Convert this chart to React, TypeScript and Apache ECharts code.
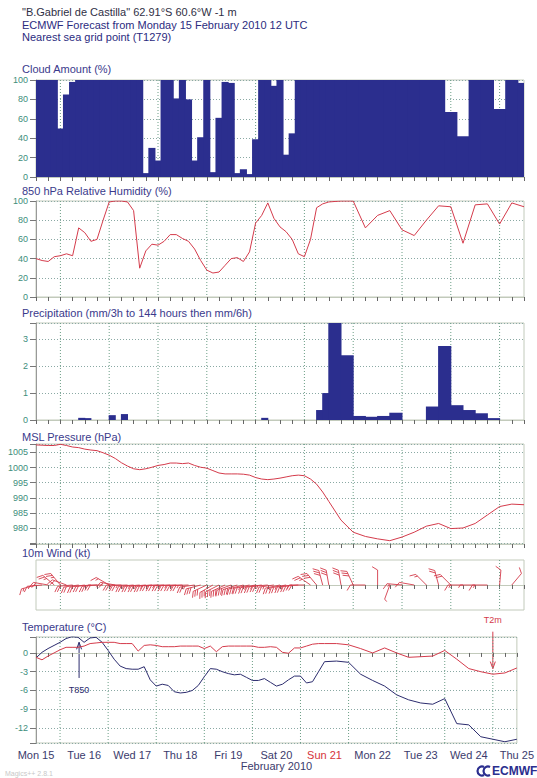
import React, { useEffect, useRef } from 'react';
import * as echarts from 'echarts';

const W = 537;
const H = 778;
const FF = '"Liberation Sans", Arial, Helvetica, sans-serif';

// forecast steps (hours after Mon 15 Feb 2010 12 UTC): 3-hourly to 144 h, then 6-hourly
const stepHours = [
  0, 3, 6, 9, 12, 15, 18, 21, 24, 27, 30, 33, 36, 39, 42, 45, 48, 51, 54, 57, 60, 63, 66, 69, 72,
  75, 78, 81, 84, 87, 90, 93, 96, 99, 102, 105, 108, 111, 114, 117, 120, 123, 126, 129, 132, 135,
  138, 141, 144, 150, 156, 162, 168, 174, 180, 186, 192, 198, 204, 210, 216, 222, 228, 234, 240,
];

const dayLabels = ['Mon 15', 'Tue 16', 'Wed 17', 'Thu 18', 'Fri 19', 'Sat 20', 'Sun 21', 'Mon 22', 'Tue 23', 'Wed 24', 'Thu 25'];
const dayLines = [12, 36, 60, 84, 108, 132, 156, 180, 204, 228];

const cloudCover = [
  100, 100, 100, 100, 50, 85, 98, 100, 100, 100,
  100, 100, 100, 100, 100, 100, 100, 100, 4, 30,
  17, 100, 100, 81, 100, 80, 17, 41, 100, 5,
  61, 98, 97, 4, 8, 3, 39, 100, 100, 94,
  100, 23, 45, 100, 100, 100, 100, 100, 100,
  100, 100, 100, 100, 100, 100, 100, 100, 100, 67, 42, 100, 100, 70, 100, 97,
];

const relHumidity = [
  40, 38, 37, 42, 43, 45, 43, 72, 67, 58,
  60, 80, 99, 100, 100, 99, 90, 30, 48, 55,
  54, 58, 65, 65, 61, 58, 50, 38, 28, 25,
  26, 33, 40, 41, 37, 47, 77, 85, 98, 82,
  73, 68, 60, 45, 42, 60, 93, 97, 99,
  100, 100, 72, 85, 90, 70, 64, 80, 95, 94, 56, 96, 97, 76, 98, 94,
];

const precip = [
  0, 0, 0, 0, 0, 0, 0, 0, 0.08, 0.07,
  0, 0, 0, 0.18, 0, 0.22, 0, 0, 0, 0,
  0, 0, 0, 0, 0, 0, 0, 0, 0, 0,
  0, 0, 0, 0, 0, 0, 0, 0, 0.08, 0,
  0, 0, 0, 0, 0, 0, 0, 0.37, 1.0,
  3.6, 2.4, 0.15, 0.12, 0.15, 0.27, 0, 0, 0.5, 2.75, 0.55, 0.37, 0.25, 0.07, 0, 0,
];

const mslPressure = [
  1007.5, 1007.4, 1007.3, 1007.3, 1007.7, 1007.3, 1006.8, 1006.6, 1006.1, 1005.8,
  1005.6, 1004.9, 1004.1, 1003.0, 1001.6, 1000.5, 999.6, 999.3, 999.6, 1000.1,
  1000.7, 1001.0, 1001.5, 1001.5, 1001.3, 1001.5, 1000.7, 1000.1, 999.8, 999.0,
  998.2, 997.9, 997.9, 997.9, 997.8, 997.5, 996.7, 996.2, 996.0, 996.2,
  996.5, 996.9, 997.3, 997.5, 997.3, 996.2, 994.5, 991.9, 988.8,
  982.6, 978.6, 977.2, 976.4, 975.8, 977.0, 978.6, 980.6, 981.5, 979.8, 980.0, 981.5, 984.3, 987.1, 987.9, 987.7,
];

const windDir = [
  255, 265, 280, 310, 320, 290, 265, 262, 262, 265,
  265, 270, 300, 280, 270, 268, 265, 265, 265, 265,
  268, 268, 268, 268, 268, 268, 262, 255, 245, 240,
  243, 245, 250, 252, 255, 258, 260, 262, 265, 262,
  258, 260, 262, 265, 270, 305, 320, 345, 350,
  350, 335, 270, 360, 200, 275, 280, 315, 345, 315, 270, 270, 270, 5, 40, 180,
];

const windSpeed = [
  15, 15, 20, 25, 25, 20, 20, 20, 20, 20,
  20, 20, 15, 20, 25, 25, 25, 25, 25, 25,
  25, 25, 25, 25, 25, 25, 25, 30, 30, 30,
  30, 30, 30, 30, 30, 25, 25, 25, 25, 25,
  25, 25, 25, 25, 20, 25, 30, 30, 30,
  30, 30, 10, 10, 3, 15, 10, 15, 20, 20, 15, 3, 15, 10, 10, 0,
];

const temp2m = [
  -0.7, -1.1, -0.5, 0, 0.5, 0.9, 0.9, 0.9, 1.1, 1.5,
  1.6, 1.7, 1.7, 1.7, 1.5, 1.5, 1.5, 0.3, 1.2, 1.3,
  1.2, 1.0, 1.0, 1.0, 1.1, 1.1, 1.1, 1.1, 0.7, 1.1,
  0.2, 1.0, 1.1, 1.1, 1.1, 1.1, 1.1, 0.9, 0.9, 1.0,
  0.9, 0.1, -0.05, 0.8, 0.8, 1.1, 1.4, 1.5, 1.5,
  1.5, 1.3, 0.7, 0.0, 0.8, 0.0, -0.7, -0.6, -0.5, 0.4, -1.0, -2.5, -3.0, -3.4, -3.2, -2.4,
];

const temp850 = [
  -0.8, 0.1, 0.7, 1.2, 1.7, 2.3, 2.6, 2.5, 1.7, 2.4,
  2.5, 1.7, 0.4, -1.0, -2.1, -2.5, -2.6, -2.6, -2.2, -4.3,
  -5.3, -5.0, -5.2, -6.2, -6.4, -6.3, -6.0, -5.2, -3.8, -2.5,
  -2.6, -3.0, -3.3, -3.5, -3.4, -3.9, -4.4, -4.4, -4.1, -4.7,
  -5.3, -5.0, -4.3, -3.7, -3.7, -4.8, -4.6, -3.0, -1.4,
  -1.3, -1.5, -3.4, -4.4, -5.3, -6.7, -7.5, -8.0, -8.2, -7.3, -11.3, -11.5, -13.4, -13.8, -14.2, -13.8,
];

const NAVY = '#2b2e8e';
const DARKNAVY = '#2c2c6e';
const RED = '#d43b4b';
const LABEL = '#3d8d7b';
const TITLE = '#3a3a8c';
const FRAME = '#c2cabb';
const HGRID = '#8aa9a4';
const VGRID = '#6c9e86';
const DAYCOL = '#3b3b6c';

const grids = [
  { top: 80, height: 97 },
  { top: 201, height: 96 },
  { top: 323, height: 97 },
  { top: 444, height: 100 },
  { top: 560, height: 50 },
  { top: 637, height: 106 },
];

const panelTitles = [
  { text: 'Cloud Amount (%)', y: 69 },
  { text: '850 hPa Relative Humidity (%)', y: 191 },
  { text: 'Precipitation (mm/3h to 144 hours then mm/6h)', y: 313 },
  { text: 'MSL Pressure (hPa)', y: 437 },
  { text: '10m Wind (kt)', y: 553 },
  { text: 'Temperature (°C)', y: 627 },
];

function barRender(params: any, api: any) {
  const x0 = api.value(0);
  const x1 = api.value(1);
  const v = api.value(2);
  if (!v) return null;
  const p0 = api.coord([x0, v]);
  const p1 = api.coord([x1, 0]);
  const cs = params.coordSys;
  // small overlap so adjacent bars leave no anti-aliasing seams
  const rect = echarts.graphic.clipRectByRect(
    { x: p0[0] - 0.5, y: p0[1], width: p1[0] - p0[0] + 1, height: p1[1] - p0[1] },
    { x: cs.x, y: cs.y, width: cs.width, height: cs.height }
  );
  if (!rect) return null;
  return { type: 'rect', shape: rect, style: { fill: NAVY } };
}

function vgridRender(params: any, api: any) {
  const cs = params.coordSys;
  const p = api.coord([api.value(0), api.value(1)]);
  return {
    type: 'line',
    shape: { x1: p[0], y1: cs.y, x2: p[0], y2: cs.y + cs.height },
    style: { stroke: VGRID, lineWidth: 1, lineDash: [1, 2] },
  };
}

function barbRender(params: any, api: any) {
  const x = api.value(0);
  const dir = api.value(2);
  const spd = api.value(3);
  if (!spd) return null;
  const p = api.coord([x, 0]);
  const a = (dir * Math.PI) / 180;
  const sx = Math.sin(a);
  const sy = -Math.cos(a);
  const qx = sy;
  const qy = -sx;
  const L = 15;
  const F = 5.5;
  const G = 2.5;
  const st = { stroke: RED, lineWidth: 0.9 };
  const children: any[] = [
    { type: 'line', shape: { x1: p[0], y1: p[1], x2: p[0] + sx * L, y2: p[1] + sy * L }, style: st },
  ];
  let rem = Math.round(spd / 5) * 5;
  let d = L;
  while (rem >= 10) {
    const bx = p[0] + sx * d;
    const by = p[1] + sy * d;
    children.push({
      type: 'line',
      shape: { x1: bx, y1: by, x2: bx + qx * F + sx * F * 0.6, y2: by + qy * F + sy * F * 0.6 },
      style: st,
    });
    rem -= 10;
    d -= G;
  }
  if (rem >= 5) {
    const bx = p[0] + sx * d;
    const by = p[1] + sy * d;
    children.push({
      type: 'line',
      shape: { x1: bx, y1: by, x2: bx + qx * F * 0.5 + sx * F * 0.3, y2: by + qy * F * 0.5 + sy * F * 0.3 },
      style: st,
    });
  }
  return { type: 'group', children };
}

function buildOption(): any {
  const xs = stepHours;
  const cloudData = xs.map((x, i) => {
    const prev = i > 0 ? xs[i - 1] : x - (xs[1] - xs[0]);
    const next = i < xs.length - 1 ? xs[i + 1] : x + (x - xs[i - 1]);
    return [(prev + x) / 2, (x + next) / 2, cloudCover[i]];
  });
  const precipData = xs.map((x, i) => {
    const prev = i > 0 ? xs[i - 1] : x - 3;
    return [prev, x, precip[i]];
  });
  const line = (vals: number[]) => xs.map((x, i) => [x, vals[i]]);
  const windData = xs.map((x, i) => [x, 0, windDir[i], windSpeed[i]]);

  const xAxis = grids.map((_, i) => ({
    gridIndex: i,
    type: 'value',
    min: 0,
    max: 240,
    interval: 6,
    axisLine: { show: true, lineStyle: { color: FRAME } },
    axisTick: { show: true, length: 4, lineStyle: { color: '#666' } },
    splitLine: { show: false },
    axisLabel:
      i === 5
        ? {
            show: true,
            margin: 6,
            color: DAYCOL,
            fontSize: 11,
            fontFamily: FF,
            formatter: (v: number) => {
              if (v % 24 !== 0) return '';
              const k = v / 24;
              return k === 6 ? '{sun|' + dayLabels[k] + '}' : dayLabels[k];
            },
            rich: { sun: { color: '#d6333a', fontSize: 11, fontFamily: FF } },
          }
        : { show: false },
    name: i === 5 ? 'February 2010' : '',
    nameLocation: 'middle',
    nameGap: 17,
    nameTextStyle: { color: DAYCOL, fontSize: 11, fontFamily: FF },
  }));

  const ySplit = { show: true, lineStyle: { color: HGRID, type: [1, 2], width: 1 } };
  const yBase = {
    type: 'value',
    axisLine: { show: true, lineStyle: { color: '#999' } },
    axisTick: { show: true, length: 6, lineStyle: { color: '#777' } },
    splitLine: ySplit,
  };
  const yLab = (fmt: (v: number) => string) => ({
    color: LABEL,
    fontSize: 9,
    fontFamily: FF,
    margin: 8,
    formatter: fmt,
  });
  const yAxis = [
    { ...yBase, gridIndex: 0, min: 0, max: 100, interval: 20, axisLabel: yLab((v) => String(v)) },
    { ...yBase, gridIndex: 1, min: 0, max: 100, interval: 20, axisLabel: yLab((v) => String(v)) },
    {
      ...yBase, gridIndex: 2, min: 0, max: 3.6, interval: 1,
      axisLabel: yLab((v) => (Math.abs(v - Math.round(v)) < 1e-6 ? String(Math.round(v)) : '')),
    },
    {
      ...yBase, gridIndex: 3, min: 974.7, max: 1007.8, splitNumber: 5,
      axisLabel: yLab((v) => (Math.abs(v % 5) < 1e-6 && v >= 978 ? String(v) : '')),
    },
    {
      gridIndex: 4, type: 'value', min: -1, max: 1,
      axisLine: { show: false }, axisTick: { show: false }, axisLabel: { show: false }, splitLine: { show: false },
    },
    {
      ...yBase, gridIndex: 5, min: -14.4, max: 2.55, splitNumber: 5,
      axisLabel: yLab((v) => (Math.abs(v % 3) < 1e-6 ? String(Math.round(v)) : '')),
    },
  ];

  const vgrid = grids.map((_, i) => ({
    type: 'custom',
    xAxisIndex: i,
    yAxisIndex: i,
    z: 1,
    silent: true,
    renderItem: vgridRender,
    encode: { x: 0, y: 1 },
    data: dayLines.map((d) => [d, yAxis[i].min]),
  }));

  return {
    animation: false,
    backgroundColor: '#ffffff',
    textStyle: { fontFamily: FF },
    grid: grids.map((g) => ({
      left: 36,
      right: 13,
      top: g.top,
      height: g.height,
      show: true,
      borderColor: FRAME,
      borderWidth: 1,
      backgroundColor: 'transparent',
    })),
    xAxis,
    yAxis,
    series: [
      ...vgrid,
      {
        type: 'custom', name: 'cloud', xAxisIndex: 0, yAxisIndex: 0, z: 3,
        renderItem: barRender, encode: { x: [0, 1], y: 2 }, data: cloudData,
      },
      {
        type: 'line', name: 'rh', xAxisIndex: 1, yAxisIndex: 1, z: 3, showSymbol: false,
        lineStyle: { color: RED, width: 1 }, itemStyle: { color: RED }, data: line(relHumidity),
      },
      {
        type: 'custom', name: 'precip', xAxisIndex: 2, yAxisIndex: 2, z: 3,
        renderItem: barRender, encode: { x: [0, 1], y: 2 }, data: precipData,
      },
      {
        type: 'line', name: 'msl', xAxisIndex: 3, yAxisIndex: 3, z: 3, showSymbol: false,
        lineStyle: { color: RED, width: 1 }, itemStyle: { color: RED }, data: line(mslPressure),
      },
      {
        type: 'custom', name: 'wind', xAxisIndex: 4, yAxisIndex: 4, z: 3,
        renderItem: barbRender, encode: { x: 0, y: 1 }, data: windData,
      },
      {
        type: 'line', name: 'T850', xAxisIndex: 5, yAxisIndex: 5, z: 3, showSymbol: false,
        lineStyle: { color: DARKNAVY, width: 1 }, itemStyle: { color: DARKNAVY }, data: line(temp850),
      },
      {
        type: 'line', name: 'T2m', xAxisIndex: 5, yAxisIndex: 5, z: 4, showSymbol: false,
        lineStyle: { color: RED, width: 1 }, itemStyle: { color: RED }, data: line(temp2m),
      },
    ],
  };
}

function buildGraphics(chart: any): any[] {
  const g: any[] = [];
  const txt = (text: string, x: number, y: number, font: string, fill: string, align = 'left') => ({
    type: 'text',
    silent: true,
    style: { text, x, y, font, fill, align, verticalAlign: 'middle' },
  });
  g.push(txt('"B.Gabriel de Castilla" 62.91°S 60.6°W -1 m', 22, 12, '11px ' + FF, '#2f2f45'));
  g.push(txt('ECMWF Forecast from Monday 15 February 2010 12 UTC', 22, 24.5, '11px ' + FF, '#2b2b80'));
  g.push(txt('Nearest sea grid point (T1279)', 22, 37, '11px ' + FF, '#2b2b80'));
  panelTitles.forEach((t) => g.push(txt(t.text, 22, t.y, '11px ' + FF, TITLE)));

  const px = (x: number, y: number) => chart.convertToPixel({ gridIndex: 5 }, [x, y]);
  // T2m arrow
  const a0 = px(228, 5.3);
  const a1 = px(228, 3.4);
  const a2 = px(228, -2.5);
  g.push(txt('T2m', a0[0], a0[1], '9px ' + FF, RED, 'center'));
  g.push({ type: 'line', silent: true, shape: { x1: a1[0], y1: a1[1], x2: a2[0], y2: a2[1] }, style: { stroke: RED, lineWidth: 1 } });
  g.push({
    type: 'polyline', silent: true,
    shape: { points: [[a2[0] - 2.5, a2[1] - 7], [a2[0], a2[1]], [a2[0] + 2.5, a2[1] - 7]] },
    style: { stroke: RED, lineWidth: 1, fill: 'none' },
  });
  // T850 arrow
  const b0 = px(21.5, -5.9);
  const b1 = px(21.5, -4.0);
  const b2 = px(21.5, 1.7);
  g.push(txt('T850', b0[0], b0[1], '9px ' + FF, DARKNAVY, 'center'));
  g.push({ type: 'line', silent: true, shape: { x1: b1[0], y1: b1[1], x2: b2[0], y2: b2[1] }, style: { stroke: DARKNAVY, lineWidth: 1 } });
  g.push({
    type: 'polyline', silent: true,
    shape: { points: [[b2[0] - 2.5, b2[1] + 7], [b2[0], b2[1]], [b2[0] + 2.5, b2[1] + 7]] },
    style: { stroke: DARKNAVY, lineWidth: 1, fill: 'none' },
  });

  g.push(txt('Magics++ 2.8.1', 5, 773, '7px ' + FF, '#c8c8c8'));
  g.push({ type: 'arc', silent: true, shape: { cx: 482, cy: 771, r: 4.5, startAngle: Math.PI * 0.35, endAngle: Math.PI * 1.65 }, style: { stroke: NAVY, lineWidth: 2.2, fill: 'none' } });
  g.push({ type: 'arc', silent: true, shape: { cx: 488, cy: 771, r: 4.5, startAngle: Math.PI * 0.35, endAngle: Math.PI * 1.65 }, style: { stroke: NAVY, lineWidth: 2.2, fill: 'none' } });
  g.push(txt('ECMWF', 492, 771, 'bold 12px ' + FF, NAVY));
  return g;
}

export default function App() {
  const ref = useRef<HTMLDivElement>(null);
  useEffect(() => {
    const el = ref.current;
    if (!el) return;
    const chart = echarts.init(el, null, { renderer: 'svg' });
    chart.setOption(buildOption());
    chart.setOption({ graphic: buildGraphics(chart) });
    return () => chart.dispose();
  }, []);
  return (
    <div
      ref={ref}
      style={{ position: 'absolute', left: 0, top: 0, width: W, height: H, background: '#fff' }}
    />
  );
}
